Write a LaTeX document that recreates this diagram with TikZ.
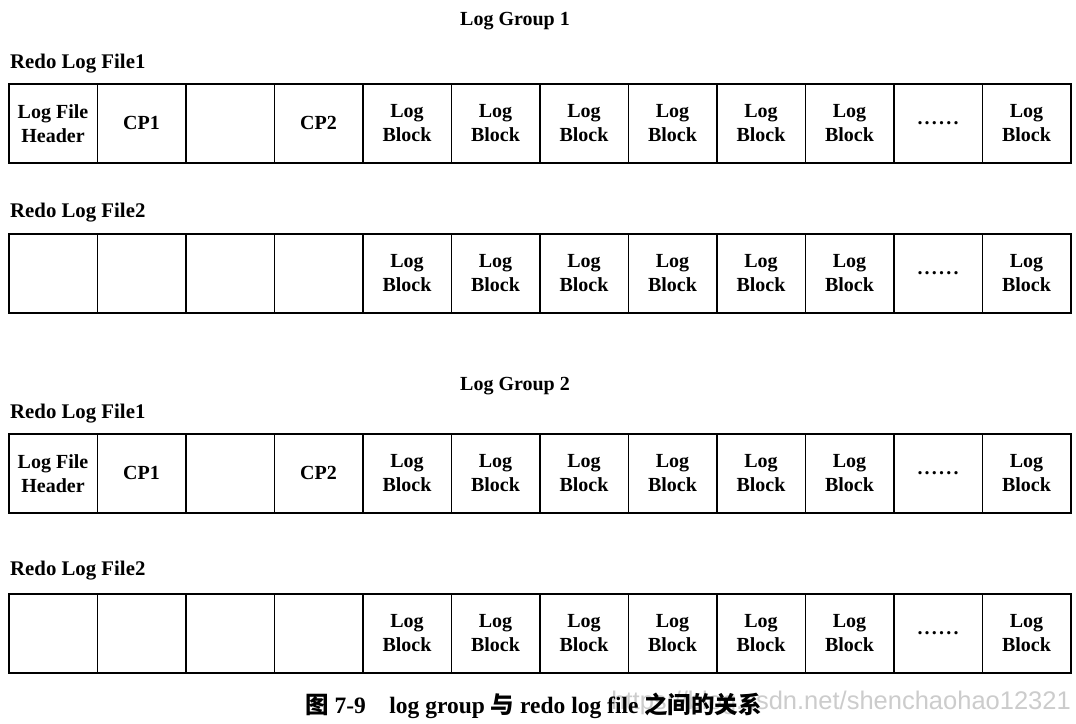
\documentclass[tikz,border=0pt]{standalone}
\usepackage{fontspec}
\setmainfont{Liberation Serif}
\newfontfamily\cjk{Noto Sans CJK SC}
\newfontfamily\wmfont{Liberation Sans}
\newcommand\mydots{\raisebox{-3pt}{.\kern2.2pt.\kern2.2pt.\kern2.2pt.\kern2.2pt.\kern2.2pt.}}
\newcommand\lb{Log\\Block}
\begin{document}
\begin{tikzpicture}[x=1pt,y=-1pt,
  cell/.style={draw, line width=1.5pt, minimum width=88.5pt, minimum height=79pt,
    inner sep=0pt, align=center, font=\bfseries\fontsize{20}{24}\selectfont, anchor=north west},
  lbl/.style={font=\bfseries\fontsize{20.8}{24}\selectfont, anchor=west, inner sep=0pt},
  title/.style={font=\bfseries\fontsize{20}{24}\selectfont, inner sep=0pt}]
\useasboundingbox (0,0) rectangle (1076,723);
\fill[white] (0,0) rectangle (1076,723);

\node[title] (g1) at (515,21) {Log Group 1};
\node[lbl] (f11) at (10,64) {Redo Log File1};
\foreach \t [count=\i] in {{Log File\\Header},CP1,{},CP2,\lb,\lb,\lb,\lb,\lb,\lb,\mydots,\lb}
  \node[cell] (aa\i) at ({8+(\i-1)*88.5},83) {\t};

\node[lbl] (f12) at (10,213) {Redo Log File2};
\foreach \t [count=\i] in {{},{},{},{},\lb,\lb,\lb,\lb,\lb,\lb,\mydots,\lb}
  \node[cell] (ab\i) at ({8+(\i-1)*88.5},233) {\t};

\node[title] (g2) at (515,386) {Log Group 2};
\node[lbl] (f21) at (10,414) {Redo Log File1};
\foreach \t [count=\i] in {{Log File\\Header},CP1,{},CP2,\lb,\lb,\lb,\lb,\lb,\lb,\mydots,\lb}
  \node[cell] (ba\i) at ({8+(\i-1)*88.5},433) {\t};

\node[lbl] (f22) at (10,571) {Redo Log File2};
\foreach \t [count=\i] in {{},{},{},{},\lb,\lb,\lb,\lb,\lb,\lb,\mydots,\lb}
  \node[cell] (bb\i) at ({8+(\i-1)*88.5},593) {\t};

\node[font=\wmfont\fontsize{25.5}{28}\selectfont, text=gray!40, anchor=east, inner sep=0pt] (wm) at (1071,703) {https://blog.csdn.net/shenchaohao12321};
\node[font=\bfseries\fontsize{23.5}{26}\selectfont, anchor=west, inner sep=0pt] (cap) at (305,706)
  {{\cjk\bfseries 图} 7-9\hspace{1em}log group {\cjk\bfseries 与} redo log file {\cjk\bfseries 之间的关系}};
\end{tikzpicture}
\end{document}
